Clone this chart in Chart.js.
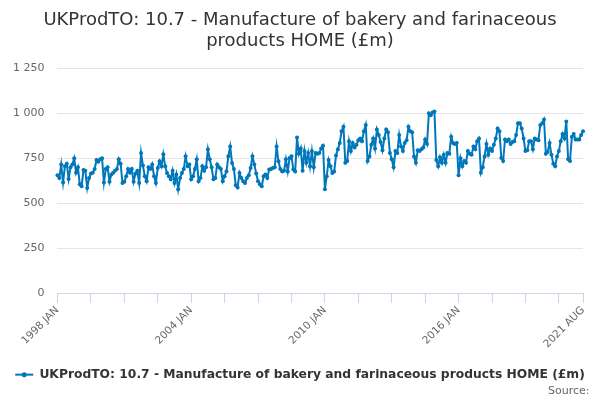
<!DOCTYPE html>
<html>
<head>
<meta charset="utf-8">
<script src="https://cdn.jsdelivr.net/npm/chart.js@4.4.1/dist/chart.umd.min.js"></script>
<style>
  body { margin: 0; background: #fff; }
  #wrap { width: 600px; height: 400px; }
</style>
</head>
<body>
<div id="wrap"><canvas id="chart"></canvas></div>
<script>
//-----------------------------------------------------------------------------
// Data (monthly, £m)
//-----------------------------------------------------------------------------

var seriesName = 'UKProdTO: 10.7 - Manufacture of bakery and farinaceous products HOME (£m)';
var monthNames = ['JAN', 'FEB', 'MAR', 'APR', 'MAY', 'JUN', 'JUL', 'AUG', 'SEP', 'OCT', 'NOV', 'DEC'];
var firstYear = 1998;
var yTicks = [0, 250, 500, 750, 1000, 1250];

var turnover = [
  655, 640, 715, 615, 705, 720, 635, 700, 715, 750, 670, 700,   // 1998
  605, 595, 685, 680, 585, 640, 665, 670, 690, 740, 730, 745,   // 1999
  750, 615, 690, 700, 620, 660, 670, 680, 690, 745, 720, 612,   // 2000
  620, 650, 690, 670, 690, 620, 665, 680, 612, 780, 710, 650,   // 2001
  622, 700, 690, 716, 650, 612, 696, 733, 705, 772, 705, 668,   // 2002
  650, 633, 680, 612, 660, 577, 640, 668, 690, 761, 705, 716,   // 2003
  633, 650, 690, 744, 622, 640, 705, 680, 700, 800, 744, 700,   // 2004
  633, 640, 716, 700, 690, 622, 650, 677, 761, 816, 724, 690,   // 2005
  600, 588, 668, 640, 622, 612, 640, 655, 696, 761, 716, 665,   // 2006
  622, 605, 594, 650, 660, 640, 688, 690, 696, 700, 816, 733,   // 2007
  690, 677, 680, 744, 677, 752, 761, 688, 677, 865, 775, 805,   // 2008
  680, 790, 725, 780, 705, 790, 700, 780, 775, 780, 805, 820,   // 2009
  578, 650, 740, 705, 668, 677, 765, 800, 835, 900, 925, 725,   // 2010
  735, 845, 790, 835, 810, 825, 850, 860, 845, 900, 935, 735,   // 2011
  760, 825, 860, 805, 910, 880, 840, 795, 860, 910, 895, 780,   // 2012
  745, 700, 790, 780, 880, 815, 790, 835, 850, 925, 900, 895,   // 2013
  760, 725, 795, 790, 800, 810, 855, 830, 1000, 990, 1005, 1010, // 2014
  740, 705, 755, 725, 770, 725, 780, 775, 870, 835, 830, 835,   // 2015
  655, 750, 705, 735, 725, 790, 775, 770, 815, 800, 845, 860,   // 2016
  670, 700, 760, 830, 770, 805, 790, 825, 860, 915, 900, 752,   // 2017
  735, 855, 845, 855, 830, 840, 845, 880, 945, 945, 915, 860,   // 2018
  790, 795, 845, 845, 800, 860, 855, 850, 935, 945, 965, 775,   // 2019
  785, 835, 770, 720, 705, 760, 790, 845, 885, 860, 955, 745,   // 2020
  735, 870, 885, 855, 855, 855, 880, 900                        // 2021
];

// category labels like "1998 JAN"
var months = turnover.map(function(v, i) {
  return (firstYear + Math.floor(i / 12)) + ' ' + monthNames[i % 12];
});

//-----------------------------------------------------------------------------
// Helpers
//-----------------------------------------------------------------------------

var FONT = '"DejaVu Sans", Verdana, sans-serif';
var BLUE = '#0077bb';

// "1250" -> "1 250"
function spaced(v) {
  return String(v).replace(/\B(?=(\d{3})+(?!\d))/g, ' ');
}

// tick mark every 18 months, label every 6 years and at the end
function xTick(value, index) {
  var last = months.length - 1;
  if (index === last || index % 72 === 0) return months[index];
  if (index % 18 === 0) return '';
  return null;
}

// legend marker: short line with a dot in the middle (highcharts look)
var legendMarker = {
  id: 'legendMarker',
  afterDraw: function(chart) {
    var legend = chart.legend;
    if (!legend || !legend.legendHitBoxes) return;
    var ctx = chart.ctx;
    legend.legendHitBoxes.forEach(function(box) {
      var cy = box.top + box.height / 2;
      ctx.save();
      ctx.strokeStyle = BLUE;
      ctx.fillStyle = BLUE;
      ctx.lineWidth = 2;
      ctx.beginPath();
      ctx.moveTo(box.left, cy);
      ctx.lineTo(box.left + 18, cy);
      ctx.stroke();
      ctx.beginPath();
      ctx.arc(box.left + 9, cy, 2.5, 0, Math.PI * 2);
      ctx.fill();
      ctx.restore();
    });
  }
};

//-----------------------------------------------------------------------------
// Chart
//-----------------------------------------------------------------------------

new Chart(document.getElementById('chart'), {
  type: 'line',
  data: {
    labels: months,
    datasets: [{
      label: seriesName,
      data: turnover,
      borderColor: BLUE,
      backgroundColor: BLUE,
      borderWidth: 2,
      pointRadius: 2,
      pointBorderWidth: 0,
      pointBackgroundColor: BLUE,
      tension: 0
    }]
  },
  plugins: [legendMarker],
  options: {
    responsive: true,
    maintainAspectRatio: false,
    animation: false,
    layout: { padding: { left: 0, right: 0, top: 4, bottom: 0 } },
    scales: {
      x: {
        offset: false,
        grid: { drawOnChartArea: false, color: '#ccd6eb', tickLength: 10 },
        border: { color: '#ccd6eb' },
        ticks: {
          autoSkip: false,
          minRotation: 45,
          maxRotation: 45,
          padding: 1,
          color: '#666',
          font: { family: FONT, size: 10.5 },
          callback: xTick
        },
        afterFit: function(axis) { axis.height += 14; }
      },
      y: {
        min: 0,
        max: 1250,
        afterBuildTicks: function(axis) {
          axis.ticks = yTicks.map(function(v) { return { value: v }; });
        },
        grid: { color: '#e6e6e6', drawTicks: false },
        border: { display: false },
        ticks: {
          padding: 13,
          color: '#666',
          font: { family: FONT, size: 11 },
          callback: function(v) { return spaced(v); }
        }
      },
      // empty right margin so title and legend stay centred on the page
      spacer: {
        type: 'linear',
        position: 'right',
        grid: { display: false },
        border: { display: false },
        ticks: { display: false },
        afterFit: function(axis) { axis.width = 17; }
      }
    },
    plugins: {
      title: {
        display: true,
        text: ['UKProdTO: 10.7 - Manufacture of bakery and farinaceous', 'products HOME (£m)'],
        color: '#333',
        font: { family: FONT, size: 18, weight: 'normal', lineHeight: 1.15 },
        padding: { top: 6, bottom: 17 }
      },
      subtitle: {
        display: true,
        position: 'bottom',
        align: 'end',
        text: 'Source:\u00a0\u00a0\u00a0',
        color: '#666',
        font: { family: FONT, size: 11 },
        padding: { top: -6, bottom: 2 }
      },
      legend: {
        position: 'bottom',
        labels: {
          usePointStyle: true,
          pointStyle: 'line',
          pointStyleWidth: 18,
          color: '#333',
          font: { family: FONT, size: 12.3, weight: 'bold' },
          padding: 3
        }
      },
      tooltip: { enabled: false }
    }
  }
});
</script>
</body>
</html>
